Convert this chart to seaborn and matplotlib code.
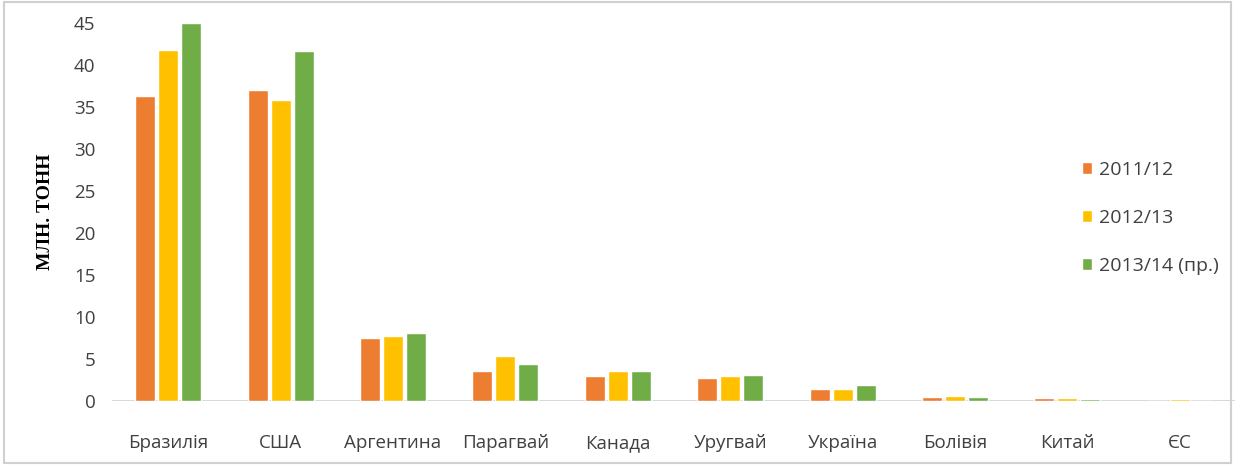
import pandas as pd
import seaborn as sns
import matplotlib.pyplot as plt
from matplotlib.patches import Rectangle

# Values (млн. тонн)
countries = ['Бразилія', 'США', 'Аргентина', 'Парагвай', 'Канада',
             'Уругвай', 'Україна', 'Болівія', 'Китай', 'ЄС']
seasons = ['2011/12', '2012/13', '2013/14 (пр.)']
v_2011 = [36.3, 37.1, 7.5, 3.6, 3.0, 2.7, 1.4, 0.4, 0.3, 0.0]
v_2012 = [41.8, 35.8, 7.7, 5.4, 3.6, 3.0, 1.4, 0.6, 0.3, 0.2]
v_2013 = [45.0, 41.7, 8.1, 4.4, 3.6, 3.1, 1.9, 0.4, 0.2, 0.0]
colors = ['#ED7D31', '#FFC000', '#70AD47']

df = pd.DataFrame({
  'country': countries * 3,
  'season':  [seasons[0]] * 10 + [seasons[1]] * 10 + [seasons[2]] * 10,
  'value':   v_2011 + v_2012 + v_2013,
})

sns.set_style('white')
plt.rcParams['font.family'] = ['Open Sans', 'DejaVu Sans']

fig = plt.figure(figsize=(12.35, 4.65), dpi=100)
ax = fig.add_axes([112 / 1235, 0.138, 1124 / 1235, 0.812])

sns.barplot(data=df, x='country', y='value', hue='season', palette=colors,
            saturation=1, width=0.614, gap=0.13, ax=ax, legend=True)

ax.set_ylim(0, 45)
ax.set_yticks(range(0, 46, 5))
ax.set_xlim(-0.5, 9.5)
for s in ax.spines.values():
  s.set_visible(False)
ax.axhline(0, color='#d9d9d9', lw=1.5, zorder=0)
ax.tick_params(axis='both', length=0, labelsize=13.5, colors='#404040')
ax.tick_params(axis='x', pad=24)
ax.tick_params(axis='y', pad=12)
ax.set_xlabel('')
ax.set_ylabel('МЛН. ТОНН', family='Liberation Serif', fontweight='bold',
              fontsize=14, color='#000000', labelpad=14)

leg = ax.legend(loc='center left', bbox_to_anchor=(1064 / 1235, 0.531),
                bbox_transform=fig.transFigure, frameon=False, fontsize=14,
                handlelength=0.55, handleheight=0.55, handletextpad=0.35,
                labelspacing=1.55)
for t in leg.get_texts():
  t.set_color('#404040')

# thin grey frame round the whole picture
fig.patches.append(Rectangle((0.003, 0.005), 0.994, 0.99, transform=fig.transFigure,
                             fill=False, edgecolor='#d0d0d0', lw=1.5))

fig.savefig('out.png', dpi=100)
